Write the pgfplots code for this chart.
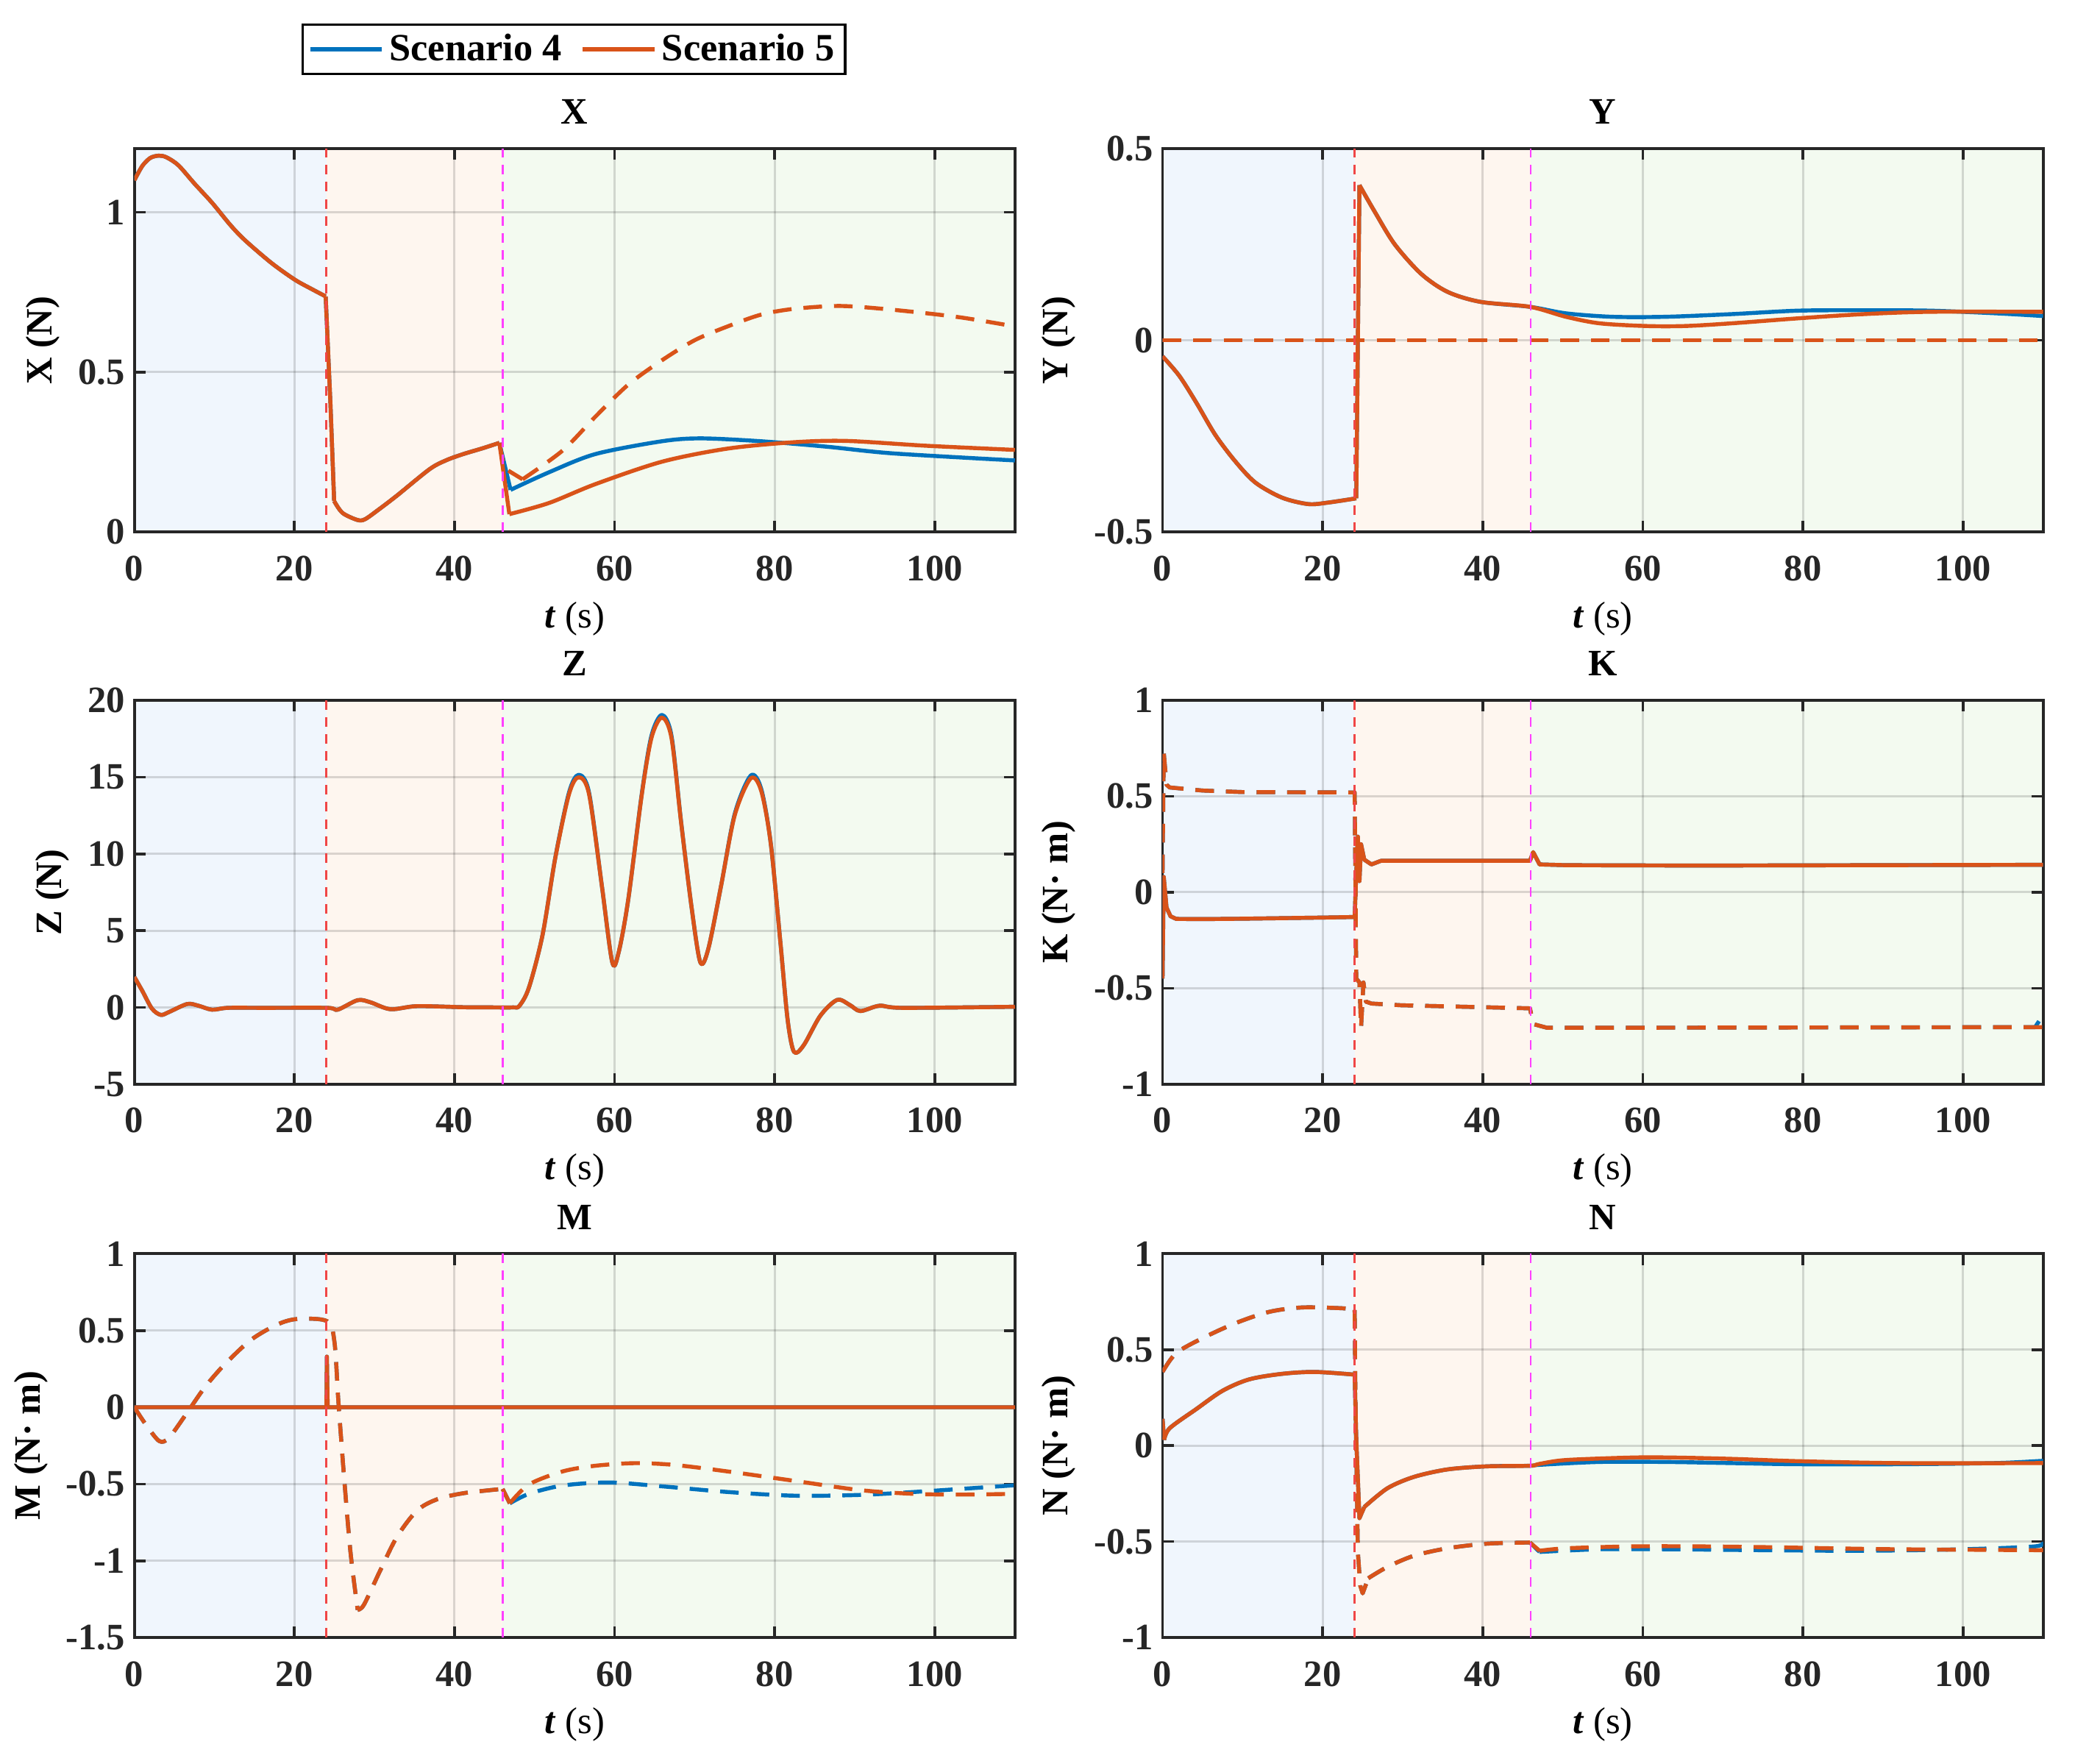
\documentclass[border=0pt]{standalone}
\usepackage{fontspec}
\setmainfont{Liberation Serif}
\usepackage{pgfplots}
\pgfplotsset{compat=1.18}
\definecolor{c4}{RGB}{0,114,189}
\definecolor{c5}{RGB}{217,83,25}
\definecolor{bgA}{RGB}{240,246,253}
\definecolor{bgB}{RGB}{254,246,239}
\definecolor{bgC}{RGB}{243,250,240}
\definecolor{vred}{RGB}{240,70,70}
\definecolor{vmag}{RGB}{255,64,255}
\definecolor{axc}{RGB}{38,38,38}
\newcommand{\fs}{\fontsize{14}{16}\selectfont}
\pgfplotsset{
 panel/.style={
  scale only axis, width=331pt, height=144.25pt, anchor=north west,
  xmin=0, xmax=110, xtick={0,20,40,60,80,100}, xticklabels={0,20,40,60,80,100},
  tick align=inside, major tick length=4.2pt,
  every tick/.style={axc, line width=1pt},
  axis line style={axc, line width=1.1pt},
  grid=major, major grid style={black, opacity=0.14, line width=0.85pt},
  tick label style={font=\fs\bfseries, text=axc},
  xticklabel style={anchor=base, yshift=-18.3pt},
  xlabel={\textbf{\textit{t}} (s)},
  xlabel style={font=\fs, at={(axis description cs:0.5,0)}, anchor=base, yshift=-36pt},
  ylabel style={font=\fs\bfseries},
  title style={font=\fs\bfseries, at={(axis description cs:0.5,1)}, anchor=base, yshift=3.2pt},
  set layers,
 },
 bg/.style={draw=none, fill=#1, on layer=axis background, forget plot},
 s4/.style={c4, line width=1.5pt, line join=round, forget plot},
 s5/.style={c5, line width=1.5pt, line join=round, forget plot},
 d4/.style={c4, line width=1.5pt, line join=round, dash pattern=on 7pt off 4.5pt, forget plot},
 d5/.style={c5, line width=1.5pt, line join=round, dash pattern=on 7pt off 4.5pt, forget plot},
}
\newcommand{\regions}[2]{%
 \addplot[bg=bgA] coordinates {(0,#1)(24,#1)(24,#2)(0,#2)};
 \addplot[bg=bgB] coordinates {(24,#1)(46,#1)(46,#2)(24,#2)};
 \addplot[bg=bgC] coordinates {(46,#1)(110,#1)(110,#2)(46,#2)};
}
\newcommand{\vlines}[2]{%
 \addplot[vred, line width=0.75pt, dash pattern=on 3.6pt off 2.8pt, forget plot] coordinates {(24,#1)(24,#2)};
 \addplot[vmag, line width=0.75pt, dash pattern=on 3.6pt off 2.8pt, forget plot] coordinates {(46,#1)(46,#2)};
}
\begin{document}
\begin{tikzpicture}
\path (0,0) rectangle (780pt,-662.8pt);
% ---------------- X
\begin{axis}[panel, at={(50.5pt,-55.75pt)}, ymin=0, ymax=1.2, ytick={0,0.5,1}, yticklabels={0,0.5,1},
  title={X}, ylabel={X (N)},
  legend style={at={(0.4992,1.258)}, anchor=center, draw=black, line width=1pt, fill=white,
    font=\fontsize{14.5}{16}\selectfont\bfseries, legend columns=2, inner xsep=2pt, inner ysep=1.5pt,
    /tikz/every even column/.append style={column sep=5pt}},
  legend image code/.code={\draw[#1, line width=1.6pt] (0pt,0pt) -- (27pt,0pt);}]
\regions{0}{1.2}
% Scenario 4
\addplot[c4, line width=1.5pt, smooth] coordinates {(0,1.10)(1,1.145)(2,1.17)(3.05,1.177)(4,1.172)(5.5,1.147)(7.5,1.09)(9.7,1.03)(12,0.96)(13.8,0.913)(17.1,0.842)(20,0.79)(22,0.762)(23.9,0.737)};
\addlegendentry{Scenario 4}
\addplot[s4] coordinates {(23.9,0.737)(24.5,0.40)(24.96,0.097)};
\addplot[s4, smooth] coordinates {(24.96,0.097)(26,0.06)(27.85,0.038)(28.8,0.04)(30.5,0.07)(32.8,0.114)(36.9,0.197)(39,0.225)(41.1,0.244)(43.5,0.262)(45.6,0.279)};
\addplot[s4] coordinates {(45.6,0.279)(47,0.132)};
\addplot[s4, smooth] coordinates {(47,0.132)(51.8,0.187)(57.6,0.244)(65.9,0.284)(70.8,0.293)(78.3,0.284)(86.5,0.267)(94.8,0.246)(110,0.224)};
% Scenario 5
\addplot[c5, line width=1.5pt, smooth] coordinates {(0,1.10)(1,1.145)(2,1.17)(3.05,1.177)(4,1.172)(5.5,1.147)(7.5,1.09)(9.7,1.03)(12,0.96)(13.8,0.913)(17.1,0.842)(20,0.79)(22,0.762)(23.9,0.737)};
\addlegendentry{Scenario 5}
\addplot[s5] coordinates {(23.9,0.737)(24.5,0.40)(24.96,0.097)};
\addplot[s5, smooth] coordinates {(24.96,0.097)(26,0.06)(27.85,0.038)(28.8,0.04)(30.5,0.07)(32.8,0.114)(36.9,0.197)(39,0.225)(41.1,0.244)(43.5,0.262)(45.6,0.279)};
\addplot[s5] coordinates {(45.6,0.279)(46.85,0.056)};
\addplot[s5, smooth] coordinates {(46.85,0.056)(51.8,0.091)(57.6,0.15)(65.9,0.22)(74.1,0.261)(82.4,0.281)(89,0.285)(98.9,0.27)(110,0.257)};
\addplot[d5] coordinates {(45.6,0.279)(46.2,0.2)(48.5,0.165)};
\addplot[d5, smooth] coordinates {(48.5,0.165)(53.5,0.255)(57.6,0.361)(61.7,0.461)(65.9,0.537)(70,0.6)(74.1,0.643)(78.3,0.68)(82.4,0.698)(88.2,0.707)(94.8,0.695)(103,0.672)(110,0.643)};
\vlines{0}{1.2}
\end{axis}
% ---------------- Y
\begin{axis}[panel, at={(437pt,-55.75pt)}, ymin=-0.5, ymax=0.5, ytick={-0.5,0,0.5}, yticklabels={-0.5,0,0.5},
  title={Y}, ylabel={Y (N)}]
\regions{-0.5}{0.5}
\addplot[s4, smooth] coordinates {(0,-0.042)(2.1,-0.093)(4.2,-0.162)(6.6,-0.247)(9.1,-0.316)(11.6,-0.371)(14.9,-0.41)(18.2,-0.427)(20.7,-0.423)(24.2,-0.412)};
\addplot[s4] coordinates {(24.2,-0.412)(24.6,0.404)};
\addplot[s4, smooth] coordinates {(24.6,0.404)(26.5,0.335)(29,0.25)(32.3,0.173)(35.6,0.126)(39.7,0.1)(45.9,0.087)(50.4,0.07)(56.2,0.061)(62.8,0.061)(71.1,0.068)(79.4,0.077)(87.6,0.078)(95.9,0.077)(104.2,0.07)(110,0.063)};
\addplot[s5, smooth] coordinates {(0,-0.042)(2.1,-0.093)(4.2,-0.162)(6.6,-0.247)(9.1,-0.316)(11.6,-0.371)(14.9,-0.41)(18.2,-0.427)(20.7,-0.423)(24.2,-0.412)};
\addplot[s5] coordinates {(24.2,-0.412)(24.6,0.404)};
\addplot[s5, smooth] coordinates {(24.6,0.404)(26.5,0.335)(29,0.25)(32.3,0.173)(35.6,0.126)(39.7,0.1)(45.9,0.087)(50.4,0.061)(54.6,0.044)(60.4,0.037)(65.3,0.037)(71.1,0.044)(79.4,0.057)(87.6,0.068)(95.9,0.074)(110,0.074)};
\addplot[d4] coordinates {(0,0)(110,0)};
\addplot[d5] coordinates {(0,0)(110,0)};
\vlines{-0.5}{0.5}
\end{axis}
% ---------------- Z
\begin{axis}[panel, at={(50.5pt,-263.25pt)}, ymin=-5, ymax=20, ytick={-5,0,5,10,15,20}, yticklabels={-5,0,5,10,15,20},
  title={Z}, ylabel={Z (N)}]
\regions{-5}{20}
\addplot[s4, smooth] coordinates {(0,1.98)(1,1.07)(2.2,-0.08)(3.3,-0.49)(4.3,-0.31)(6.6,0.22)(8,0.11)(9.7,-0.15)(11.7,-0.03)(16.3,-0.03)(24.1,-0.03)(25.4,-0.15)(27.9,0.47)(29.5,0.33)(32,-0.12)(35.3,0.08)(41.1,0.01)(44.5,0.0)(47.3,0.0)(48.1,0.1)(49.3,1.3)(51,4.73)(52.6,9.8)(54.3,14.0)(55.5,15.15)(56.8,14.0)(58.4,7.93)(59.7,2.94)(60.5,3.58)(61.7,7.02)(63.4,13.95)(64.6,17.7)(65.9,19.05)(67.1,17.7)(68.3,12.1)(69.6,6.56)(70.7,2.94)(71.7,3.81)(73.3,7.93)(75,12.6)(77,15.1)(78.3,14.25)(79.5,10.7)(80.7,4.27)(81.6,-0.76)(82.4,-2.89)(83.6,-2.48)(85.7,-0.54)(87.8,0.49)(89.4,0.15)(90.7,-0.24)(93.1,0.11)(96,-0.03)(110,0.04)};
\addplot[s5, smooth] coordinates {(0,1.98)(1,1.07)(2.2,-0.08)(3.3,-0.49)(4.3,-0.31)(6.6,0.22)(8,0.11)(9.7,-0.15)(11.7,-0.03)(16.3,-0.03)(24.1,-0.03)(25.4,-0.15)(27.9,0.47)(29.5,0.33)(32,-0.12)(35.3,0.08)(41.1,0.01)(44.5,0.0)(47.3,0.0)(48.1,0.1)(49.3,1.3)(51,4.73)(52.6,9.77)(54.3,13.89)(55.5,14.99)(56.8,13.89)(58.4,7.93)(59.7,2.94)(60.5,3.58)(61.7,7.02)(63.4,13.89)(64.6,17.55)(65.9,18.88)(67.1,17.55)(68.3,12.06)(69.6,6.56)(70.7,2.94)(71.7,3.81)(73.3,7.93)(75,12.51)(77,14.92)(78.3,14.12)(79.5,10.68)(80.7,4.27)(81.6,-0.76)(82.4,-2.89)(83.6,-2.48)(85.7,-0.54)(87.8,0.49)(89.4,0.15)(90.7,-0.24)(93.1,0.11)(96,-0.03)(110,0.04)};
\vlines{-5}{20}
\end{axis}
% ---------------- K
\begin{axis}[panel, at={(437pt,-263.25pt)}, ymin=-1, ymax=1, ytick={-1,-0.5,0,0.5,1}, yticklabels={-1,-0.5,0,0.5,1},
  title={K}, ylabel={K (N· m)}]
\regions{-1}{1}
\addplot[s4] coordinates {(0,-0.45)(0.15,0.08)(0.5,-0.08)(1,-0.125)(1.7,-0.139)(5,-0.14)(10,-0.138)(15,-0.135)(20,-0.132)(24,-0.129)(24.2,0.1)(24.4,0.29)(24.6,0.058)(24.8,0.25)(25.2,0.17)(26.1,0.145)(27.3,0.164)(30.6,0.164)(45.9,0.164)(46.3,0.209)(47.1,0.145)(50.4,0.141)(67,0.139)(110,0.143)};
\addplot[d4] coordinates {(0,0.1)(0.15,0.73)(0.5,0.56)(0.9,0.546)(5,0.53)(10,0.522)(24,0.52)(24.2,-0.45)(24.6,-0.47)(24.8,-0.706)(25.1,-0.47)(25.4,-0.57)(26.1,-0.58)(29.8,-0.589)(45.9,-0.605)(46.3,-0.687)(48,-0.706)(58.7,-0.706)(109,-0.703)(110,-0.64)};
\addplot[s5] coordinates {(0,-0.45)(0.15,0.08)(0.5,-0.08)(1,-0.125)(1.7,-0.139)(5,-0.14)(10,-0.138)(15,-0.135)(20,-0.132)(24,-0.129)(24.2,0.1)(24.4,0.29)(24.6,0.058)(24.8,0.25)(25.2,0.17)(26.1,0.145)(27.3,0.164)(30.6,0.164)(45.9,0.164)(46.3,0.209)(47.1,0.145)(50.4,0.141)(67,0.139)(110,0.143)};
\addplot[d5] coordinates {(0,0.1)(0.15,0.73)(0.5,0.56)(0.9,0.546)(5,0.53)(10,0.522)(24,0.52)(24.2,-0.45)(24.6,-0.47)(24.8,-0.706)(25.1,-0.47)(25.4,-0.57)(26.1,-0.58)(29.8,-0.589)(45.9,-0.605)(46.3,-0.687)(48,-0.706)(58.7,-0.706)(110,-0.703)};
\vlines{-1}{1}
\end{axis}
% ---------------- M
\begin{axis}[panel, at={(50.5pt,-471.25pt)}, ymin=-1.5, ymax=1, ytick={-1.5,-1,-0.5,0,0.5,1}, yticklabels={-1.5,-1,-0.5,0,0.5,1},
  title={M}, ylabel={M (N· m)}]
\regions{-1.5}{1}
\addplot[s4] coordinates {(0,0)(24,0)(24.05,0.33)(24.15,0)(110,0)};
\addplot[d4, smooth] coordinates {(0,0)(1.4,-0.11)(3.1,-0.22)(4.3,-0.2)(6.4,-0.05)(8.8,0.13)(11.3,0.28)(14.6,0.44)(17.9,0.54)(20.4,0.575)(24.1,0.56)(25,0.425)(25.5,0.03)(26.2,-0.454)(27,-0.943)(27.9,-1.32)};
\addplot[d4, smooth] coordinates {(27.9,-1.32)(28.7,-1.285)(30.7,-1.065)(32.8,-0.845)(35.3,-0.674)(37.8,-0.6)(41.1,-0.56)(46,-0.532)};
\addplot[d4] coordinates {(46,-0.532)(46.9,-0.626)};
\addplot[d4, smooth] coordinates {(46.9,-0.626)(49.3,-0.564)(53.5,-0.51)(59.3,-0.49)(65.9,-0.515)(74.1,-0.552)(82.4,-0.576)(90.7,-0.571)(98.9,-0.547)(110,-0.508)};
\addplot[s5] coordinates {(0,0)(24,0)(24.05,0.33)(24.15,0)(110,0)};
\addplot[d5, smooth] coordinates {(0,0)(1.4,-0.11)(3.1,-0.22)(4.3,-0.2)(6.4,-0.05)(8.8,0.13)(11.3,0.28)(14.6,0.44)(17.9,0.54)(20.4,0.575)(24.1,0.56)(25,0.425)(25.5,0.03)(26.2,-0.454)(27,-0.943)(27.9,-1.32)};
\addplot[d5, smooth] coordinates {(27.9,-1.32)(28.7,-1.285)(30.7,-1.065)(32.8,-0.845)(35.3,-0.674)(37.8,-0.6)(41.1,-0.56)(46,-0.532)};
\addplot[d5] coordinates {(46,-0.532)(46.9,-0.626)};
\addplot[d5, smooth] coordinates {(46.9,-0.626)(49.3,-0.503)(53.5,-0.418)(57.6,-0.381)(62.6,-0.364)(67.5,-0.376)(74.1,-0.418)(82.4,-0.479)(90.7,-0.54)(97.3,-0.564)(103.1,-0.569)(110,-0.564)};
\vlines{-1.5}{1}
\end{axis}
% ---------------- N
\begin{axis}[panel, at={(437pt,-471.25pt)}, ymin=-1, ymax=1, ytick={-1,-0.5,0,0.5,1}, yticklabels={-1,-0.5,0,0.5,1},
  title={N}, ylabel={N (N· m)}]
\regions{-1}{1}
\addplot[s4] coordinates {(0,0.14)(0.2,0.03)};
\addplot[s4, smooth] coordinates {(0.2,0.03)(0.9,0.091)(4.2,0.19)(7.5,0.286)(10.8,0.345)(14.9,0.374)(19,0.384)(24,0.37)};
\addplot[s4] coordinates {(24,0.37)(24.2,0.032)(24.6,-0.378)(25.2,-0.32)};
\addplot[s4, smooth] coordinates {(25.2,-0.32)(28.1,-0.222)(31.4,-0.163)(35.6,-0.124)(40.5,-0.108)(45.9,-0.105)(47.1,-0.1)(54.6,-0.085)(62.8,-0.085)(71.1,-0.091)(79.4,-0.097)(91.8,-0.097)(104,-0.091)(110,-0.079)};
\addplot[d4, smooth] coordinates {(0,0.384)(1.7,0.482)(5,0.56)(9.1,0.638)(13.3,0.697)(17.4,0.72)(22.4,0.716)(24,0.707)};
\addplot[d4] coordinates {(24,0.707)(24.1,0.228)(24.4,-0.554)(24.7,-0.73)(25,-0.77)(25.7,-0.691)};
\addplot[d4, smooth] coordinates {(25.7,-0.691)(28.1,-0.632)(31.4,-0.574)(35.6,-0.535)(40.5,-0.511)(45.9,-0.505)};
\addplot[d4] coordinates {(45.9,-0.505)(47.1,-0.554)};
\addplot[d4, smooth] coordinates {(47.1,-0.554)(54.6,-0.54)(62.8,-0.54)(75.2,-0.545)(87.6,-0.548)(100,-0.54)(109,-0.525)(110,-0.5)};
\addplot[s5] coordinates {(0,0.14)(0.2,0.03)};
\addplot[s5, smooth] coordinates {(0.2,0.03)(0.9,0.091)(4.2,0.19)(7.5,0.286)(10.8,0.345)(14.9,0.374)(19,0.384)(24,0.37)};
\addplot[s5] coordinates {(24,0.37)(24.2,0.032)(24.6,-0.378)(25.2,-0.32)};
\addplot[s5, smooth] coordinates {(25.2,-0.32)(28.1,-0.222)(31.4,-0.163)(35.6,-0.124)(40.5,-0.108)(45.9,-0.105)(47.1,-0.095)(50.4,-0.075)(58.7,-0.062)(63.7,-0.062)(71.1,-0.069)(79.4,-0.081)(91.8,-0.091)(110,-0.091)};
\addplot[d5, smooth] coordinates {(0,0.384)(1.7,0.482)(5,0.56)(9.1,0.638)(13.3,0.697)(17.4,0.72)(22.4,0.716)(24,0.707)};
\addplot[d5] coordinates {(24,0.707)(24.1,0.228)(24.4,-0.554)(24.7,-0.73)(25,-0.77)(25.7,-0.691)};
\addplot[d5, smooth] coordinates {(25.7,-0.691)(28.1,-0.632)(31.4,-0.574)(35.6,-0.535)(40.5,-0.511)(45.9,-0.505)};
\addplot[d5] coordinates {(45.9,-0.505)(47.1,-0.548)};
\addplot[d5, smooth] coordinates {(47.1,-0.548)(50.4,-0.535)(58.7,-0.525)(67,-0.525)(75.2,-0.529)(83.5,-0.535)(91.8,-0.54)(110,-0.545)};
\vlines{-1}{1}
\end{axis}
\end{tikzpicture}
\end{document}
